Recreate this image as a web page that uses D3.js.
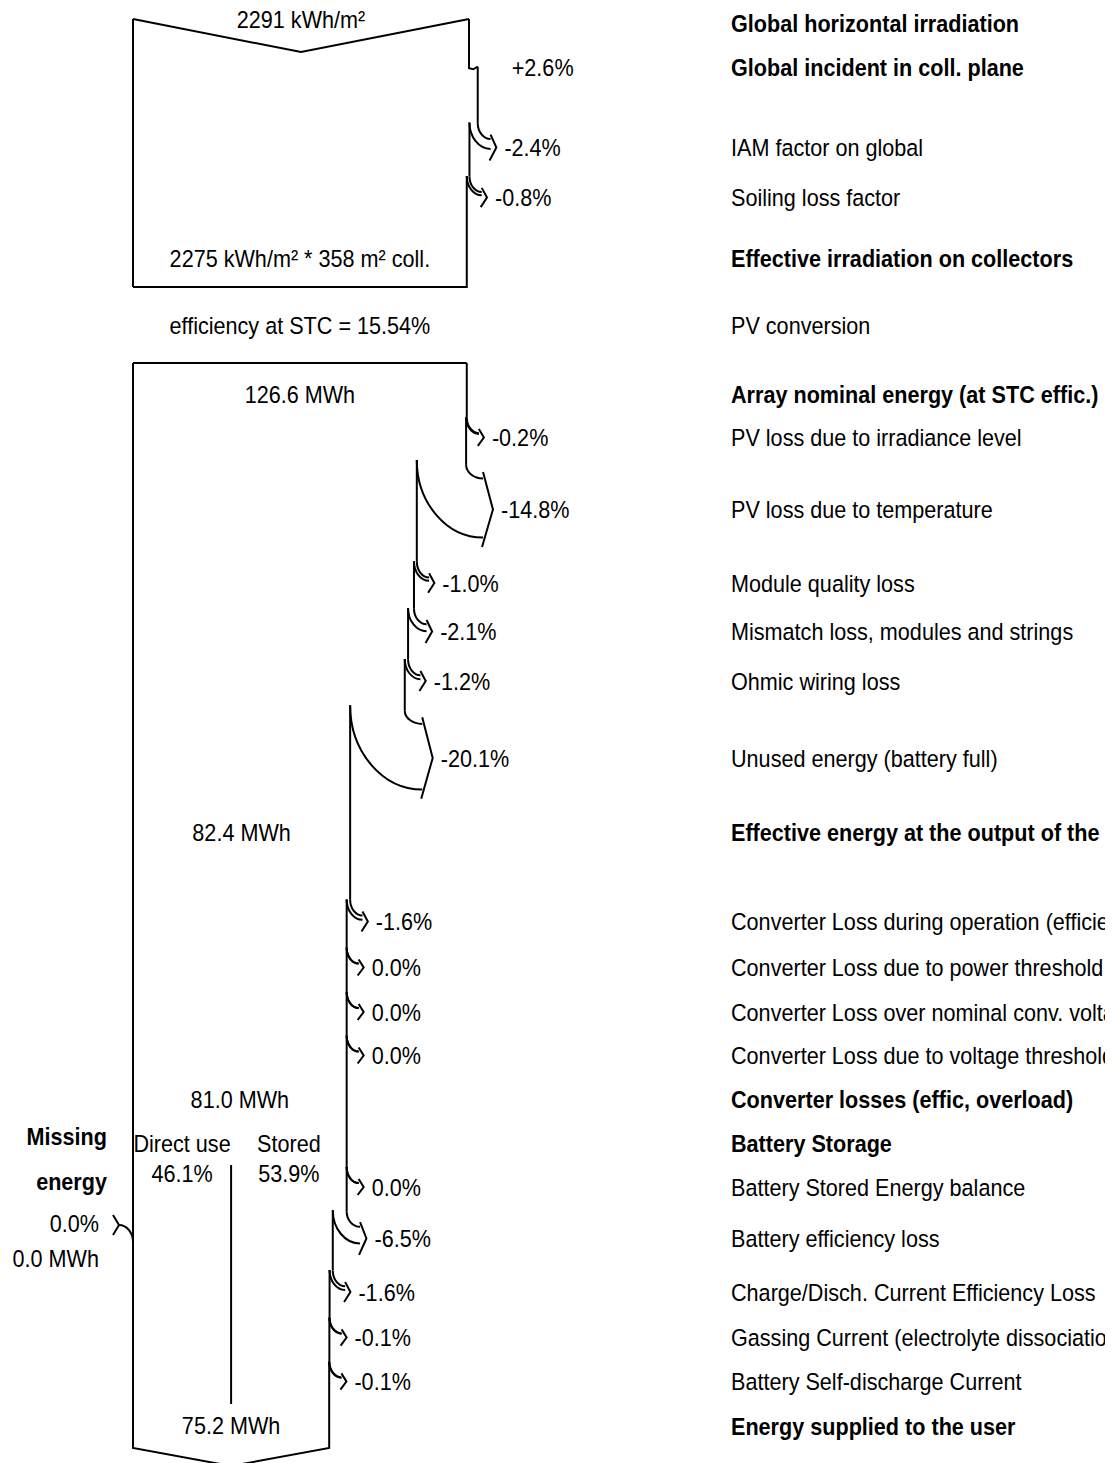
<!DOCTYPE html>
<html>
<head>
<meta charset="utf-8">
<script src="https://cdn.jsdelivr.net/npm/d3@7"></script>
<style>
  html, body { margin: 0; padding: 0; background: #fff; }
  svg { display: block; }
  text { font-family: "Liberation Sans", Arial, sans-serif; font-size: 23.5px; fill: #000; }
</style>
</head>
<body>
<div id="chart"></div>
<script>
// ---------------- Data ----------------
const stepLabels = [
  "Global horizontal irradiation",
  "Global incident in coll. plane",
  "IAM factor on global",
  "Soiling loss factor",
  "Effective irradiation on collectors",
  "PV conversion",
  "Array nominal energy (at STC effic.)",
  "PV loss due to irradiance level",
  "PV loss due to temperature",
  "Module quality loss",
  "Mismatch loss, modules and strings",
  "Ohmic wiring loss",
  "Unused energy (battery full)",
  "Effective energy at the output of the array",
  "Converter Loss during operation (efficiency)",
  "Converter Loss due to power threshold",
  "Converter Loss over nominal conv. voltage",
  "Converter Loss due to voltage threshold",
  "Converter losses (effic, overload)",
  "Battery Storage",
  "Battery Stored Energy balance",
  "Battery efficiency loss",
  "Charge/Disch. Current Efficiency Loss",
  "Gassing Current (electrolyte dissociation)",
  "Battery Self-discharge Current",
  "Energy supplied to the user"
];
const stepKinds = [
  "total", "gain", "loss", "loss", "total", "conversion",
  "total", "loss", "loss", "loss", "loss", "loss", "loss", "total",
  "loss", "loss", "loss", "loss", "total",
  "total", "loss", "loss", "loss", "loss", "loss", "total"
];
// percentage change applied at each step (null = no flow change on that row)
const stepPct = [
  null, 2.6, -2.4, -0.8, null, null,
  null, -0.2, -14.8, -1.0, -2.1, -1.2, -20.1, null,
  -1.6, 0.0, 0.0, 0.0, null,
  null, 0.0, -6.5, -1.6, -0.1, -0.1, null
];
const ghiKWh = 2291;           // kWh/m²
const effIrrKWh = 2275;        // kWh/m²
const collectorArea = 358;     // m²
const stcEfficiency = 15.54;   // %
const energyRows = [6, 13, 18, 25];
const energyMWh = [126.6, 82.4, 81.0, 75.2];
const splitLabels = ["Direct use", "Stored"];
const splitPct = [46.1, 53.9];
const missingPct = 0.0;
const missingMWh = 0.0;

// ---------------- Layout ----------------
const W = 1118, H = 1463;
const X0 = 133;            // left edge of the flow
const LABEL_X = 731;       // description column
const LABEL_RIGHT = 1105;  // description column is cut at this x
const rowY = [23.5, 67.5, 147.5, 197.5, 258, 325, 394.5, 437.5, 509.5, 583, 631.5, 681, 758,
              832, 921.5, 967.5, 1012, 1055.5, 1099.5, 1143, 1187, 1238.5, 1292, 1337.5, 1381.5, 1426];
const box1Top = 19, box1Notch = 33, box1Bottom = 287;
const box2Top = 363, box2Bottom = 1448, box2Notch = 18;
const TEXT_SX = 0.92, TEXT_DY = 8.5;

const fmtPct = p => (p > 0 ? "+" : p < 0 ? "-" : "") + Math.abs(p).toFixed(1) + "%";
const fmtMWh = v => v.toFixed(1) + " MWh";

const svg = d3.select("#chart").append("svg").attr("width", W).attr("height", H);
svg.append("rect").attr("width", W).attr("height", H).attr("fill", "#fff");
svg.append("defs").append("clipPath").attr("id", "desc-clip")
  .append("rect").attr("x", 0).attr("y", 0).attr("width", LABEL_RIGHT).attr("height", H);

const gLines = svg.append("g")
  .attr("fill", "none").attr("stroke", "#000").attr("stroke-width", 2)
  .attr("stroke-linejoin", "miter").attr("stroke-linecap", "butt");
const gText = svg.append("g");
const gDesc = svg.append("g").attr("clip-path", "url(#desc-clip)");
const line = d3.line();

function poly(points) { gLines.append("path").attr("d", line(points)); }

// quarter-ellipse from a vertical start to a horizontal end
function quarterArc(x1, y1, x2, y2) {
  const k = 0.552;
  const p = d3.path();
  p.moveTo(x1, y1);
  p.bezierCurveTo(x1, y1 + k * (y2 - y1), x2 - k * (x2 - x1), y2, x2, y2);
  gLines.append("path").attr("d", p.toString());
}

function label(x, y, str, opts = {}) {
  (opts.parent || gText).append("text")
    .attr("transform", `translate(${x},${y + TEXT_DY}) scale(${TEXT_SX},1)`)
    .attr("text-anchor", opts.anchor || "start")
    .attr("font-weight", opts.bold ? "bold" : null)
    .text(str);
}

// loss branch leaving the right edge: returns the y where the narrowed edge starts
function lossBranch(xOld, xNew, yc, yEdge, pct) {
  const w = xOld - xNew;
  const xt = xOld + 17 + 0.2 * w;
  const xa = xt - 5 - 0.1 * w;
  const ysO = yc - 20 - 0.5 * w, yeO = yc - 4 - 0.55 * w;
  const ysI = yc - 20 - 0.6 * w, yeI = yc - 4 + 0.65 * w;
  poly([[xOld, yEdge], [xOld, ysO]]);
  quarterArc(xOld, ysO, xa, yeO);
  quarterArc(xNew, ysI, xa, yeI);
  poly([[xa, yc - 0.6 * w - 8], [xt, yc], [xa - 1, yc + 0.6 * w + 8]]);
  label(xOld + 25 + 0.2 * w, yc, fmtPct(pct));
  return ysI;
}

// ---------------- Irradiation block ----------------
const irrScale = d3.scaleLinear().domain([0, ghiKWh]).range([0, 336]);
let value = ghiKWh;
let xEdge = X0 + irrScale(value);
let yEdge = box1Top;

poly([[X0, box1Top], [(X0 + xEdge) / 2, box1Top + box1Notch], [xEdge, box1Top]]);
poly([[X0, box1Top], [X0, box1Bottom]]);

for (let i = 1; i <= 4; i++) {
  const p = stepPct[i];
  if (p === null) continue;
  const nv = value * (1 + p / 100);
  const xNew = X0 + irrScale(nv);
  const yc = rowY[i];
  if (stepKinds[i] === "gain") {
    poly([[xEdge, yEdge], [xEdge, yc + 0.8], [xEdge + 4.3, yc + 1.8], [xNew, yc - 0.8]]);
    yEdge = yc - 0.8;
    label(xNew + 34, yc, fmtPct(p));
  } else {
    yEdge = lossBranch(xEdge, xNew, yc, yEdge, p);
  }
  xEdge = xNew; value = nv;
}
poly([[xEdge, yEdge], [xEdge, box1Bottom], [X0, box1Bottom]]);

label(X0 + irrScale(ghiKWh) / 2, rowY[0] - 4, ghiKWh + " kWh/m²", { anchor: "middle" });
label((X0 + xEdge) / 2, rowY[4], `${effIrrKWh} kWh/m² * ${collectorArea} m² coll.`, { anchor: "middle" });
label((X0 + xEdge) / 2, rowY[5], `efficiency at STC = ${stcEfficiency.toFixed(2)}%`, { anchor: "middle" });

// ---------------- Energy block ----------------
const eScale = d3.scaleLinear().domain([0, energyMWh[0]]).range([0, xEdge - X0]);
value = energyMWh[0];
xEdge = X0 + eScale(value);
yEdge = box2Top;
poly([[X0, box2Top], [xEdge, box2Top]]);

const edgeAtRow = {};
for (let i = 6; i < stepLabels.length; i++) {
  edgeAtRow[i] = xEdge;
  const p = stepPct[i];
  if (p === null) continue;
  const nv = value * (1 + p / 100);
  const xNew = X0 + eScale(nv);
  yEdge = lossBranch(xEdge, xNew, rowY[i], yEdge, p);
  xEdge = xNew; value = nv;
  edgeAtRow[i] = xEdge;
}
const xFinal = xEdge;
poly([[xEdge, yEdge], [xEdge, box2Bottom], [(X0 + xEdge) / 2, box2Bottom + box2Notch],
      [X0, box2Bottom], [X0, box2Top]]);

energyRows.forEach((r, k) => {
  const xr = k === 0 ? X0 + eScale(energyMWh[0]) : edgeAtRow[r];
  label((X0 + xr) / 2, rowY[r] - (k === 3 ? 0.5 : 0), fmtMWh(energyMWh[k]), { anchor: "middle" });
});

// direct use / stored split
const xDiv = (X0 + xFinal) / 2;
poly([[xDiv, rowY[19] + 22], [xDiv, rowY[25] - 22]]);
const xSplitRight = edgeAtRow[19];
const splitCenters = [(X0 + xDiv) / 2, (xDiv + xSplitRight) / 2];
splitLabels.forEach((s, k) => {
  label(splitCenters[k], rowY[19], s, { anchor: "middle" });
  label(splitCenters[k], rowY[19] + 30.5, splitPct[k].toFixed(1) + "%", { anchor: "middle" });
});

// missing energy (incoming on the left edge)
const yMiss = 1225;
poly([[X0 - 20, yMiss - 10], [X0 - 14, yMiss], [X0 - 20, yMiss + 10]]);
(function () {
  const p = d3.path();
  p.moveTo(X0 - 14, yMiss);
  p.bezierCurveTo(X0 - 6, yMiss, X0, yMiss + 8, X0, yMiss + 17);
  gLines.append("path").attr("d", p.toString());
})();
label(107, rowY[19] - 6.5, "Missing", { anchor: "end", bold: true });
label(107, rowY[19] + 38, "energy", { anchor: "end", bold: true });
label(99, yMiss - 1.5, missingPct.toFixed(1) + "%", { anchor: "end" });
label(99, yMiss + 33.5, fmtMWh(missingMWh), { anchor: "end" });

// ---------------- Description column ----------------
stepLabels.forEach((s, i) => {
  label(LABEL_X, rowY[i], s, { parent: gDesc, bold: stepKinds[i] === "total" || stepKinds[i] === "gain" });
});
</script>
</body>
</html>
